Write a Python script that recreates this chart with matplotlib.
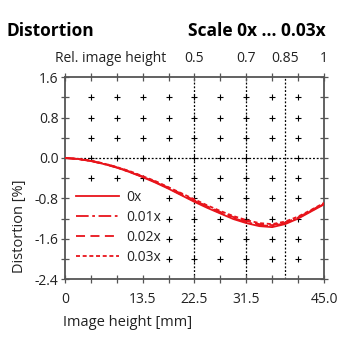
import matplotlib.pyplot as plt
import numpy as np

plt.rcParams['font.family'] = ['Open Sans', 'DejaVu Sans']

# image height [mm] and distortion [%] for each scale
height_mm = [0, 2.25, 4.5, 6.75, 9, 11.25, 13.5, 15.75, 18, 20.25, 22.5,
             24.75, 27, 29.25, 31.5, 33.75, 36, 38.25, 40.5, 42.75, 45]
dist_0x = [0, -0.02, -0.06, -0.12, -0.19, -0.28, -0.38, -0.49, -0.61, -0.74, -0.87,
           -0.99, -1.10, -1.21, -1.29, -1.35, -1.37, -1.31, -1.20, -1.06, -0.92]
dist_001x = [0, -0.02, -0.06, -0.12, -0.19, -0.28, -0.37, -0.48, -0.60, -0.73, -0.85,
             -0.97, -1.09, -1.19, -1.27, -1.33, -1.35, -1.29, -1.19, -1.05, -0.91]
dist_002x = [0, -0.02, -0.06, -0.11, -0.18, -0.27, -0.37, -0.47, -0.59, -0.71, -0.84,
             -0.96, -1.07, -1.17, -1.25, -1.31, -1.33, -1.28, -1.18, -1.04, -0.90]
dist_003x = [0, -0.02, -0.05, -0.11, -0.18, -0.26, -0.36, -0.46, -0.58, -0.70, -0.82,
             -0.94, -1.05, -1.15, -1.23, -1.29, -1.31, -1.26, -1.16, -1.03, -0.89]
series_labels = ['0x', '0.01x', '0.02x', '0.03x']

x_ticklabels = {0: '0', 13.5: '13.5', 22.5: '22.5', 31.5: '31.5', 45: '45.0'}
y_ticklabels = {1.6: '1.6', 0.8: '0.8', 0.0: '0.0', -0.8: '-0.8', -1.6: '-1.6', -2.4: '-2.4'}
rel_heights = [0.5, 0.7, 0.85, 1]
rel_labels = ['0.5', '0.7', '0.85', '1']
max_height = 45.0

red = '#e8141b'
axis_grey = '#555555'
text_col = '#222222'

fig = plt.figure(figsize=(3.4, 3.4), dpi=100)
ax = fig.add_axes([0.191, 0.179, 0.762, 0.594])
ax.set_xlim(0, 45)
ax.set_ylim(-2.4, 1.6)

xt = np.arange(0, 45.01, 4.5)
yt = np.arange(-2.4, 1.61, 0.4)

# crosses on the inner grid
gx, gy = np.meshgrid(xt[1:-1], yt[1:-1])
ax.plot(gx.ravel(), gy.ravel(), '+', color='black', ms=5, mew=0.8, zorder=1)

# dotted reference lines
for r in rel_heights[:-1]:
    ax.axvline(r * max_height, color='black', ls=(0, (1.5, 1.5)), lw=0.9, zorder=1)
ax.axhline(0, color='black', ls=(0, (1.5, 1.5)), lw=0.9, zorder=1)

styles = ['-', (0, (7, 2, 1.5, 2)), (0, (5, 3)), (0, (2.2, 1.5))]
for d, lab, ls in zip([dist_0x, dist_001x, dist_002x, dist_003x], series_labels, styles):
    ax.plot(height_mm, d, color=red, ls=ls, lw=1.3, label=lab, zorder=3)

leg = ax.legend(loc='lower left', bbox_to_anchor=(0.015, 0.035), frameon=True,
                fontsize=10, handlelength=3.1, handletextpad=0.5,
                labelspacing=0.36, borderpad=0.3, borderaxespad=0.2)
leg.get_frame().set_facecolor('white')
leg.get_frame().set_edgecolor('none')
leg.get_frame().set_alpha(1)
leg.set_zorder(2)
for t in leg.get_texts():
    t.set_color(text_col)

ax.set_xticks(xt)
ax.set_xticklabels([x_ticklabels.get(round(v, 2), '') for v in xt])
ax.set_yticks(yt)
ax.set_yticklabels([y_ticklabels.get(round(v, 2), '') for v in yt])
ax.tick_params(direction='inout', length=6, width=0.9, color=axis_grey,
               labelsize=10, labelcolor=text_col, top=True, right=True, pad=1.5)
ax.tick_params(axis='x', pad=6)
for s in ax.spines.values():
    s.set_color(axis_grey)
    s.set_linewidth(1.3)

# relative image height along the top
for r, lab in zip(rel_heights, rel_labels):
    ax.text(r * max_height, 1.0 + 0.055, lab, transform=ax.get_xaxis_transform(),
            ha='center', va='bottom', fontsize=10, color=text_col)
ax.text(0.39, 1.0 + 0.055, 'Rel. image height', transform=ax.transAxes,
        ha='right', va='bottom', fontsize=10, color=text_col)

fig.text(0.02, 0.91, 'Distortion', fontsize=12.5, fontweight='bold', ha='left', va='center')
fig.text(0.957, 0.91, 'Scale 0x ... 0.03x', fontsize=12.5, fontweight='bold',
         ha='right', va='center')
fig.text(0.057, 0.335, 'Distortion [%]', rotation=90, fontsize=10.5, color=text_col,
         ha='center', va='center')
fig.text(0.185, 0.05, 'Image height [mm]', fontsize=10.5, color=text_col,
         ha='left', va='center')

fig.savefig('out.png', dpi=100, facecolor='white')
